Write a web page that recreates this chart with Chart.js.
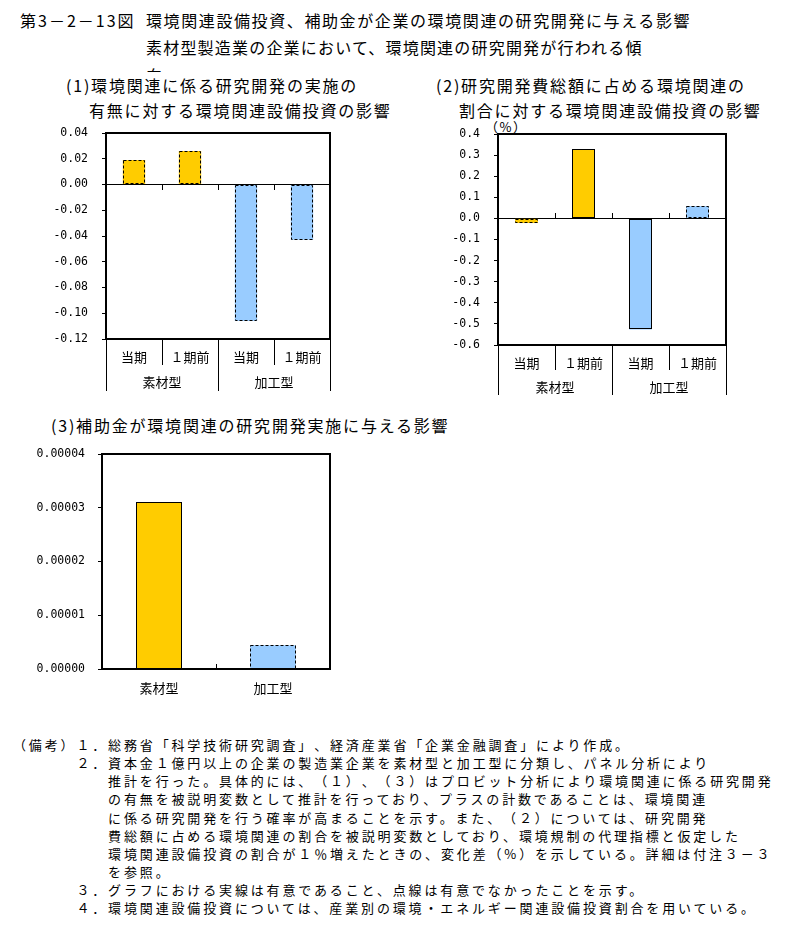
<!DOCTYPE html>
<html lang="ja">
<head>
<meta charset="utf-8">
<script src="https://cdn.jsdelivr.net/npm/chart.js@4.4.1/dist/chart.umd.min.js"></script>
<style>
body{margin:0;background:#fff;width:797px;height:942px;position:relative;overflow:hidden;font-family:"Noto Sans CJK JP",sans-serif;color:#000;text-spacing-trim:space-all;}
.t{position:absolute;white-space:nowrap;font-size:16px;line-height:20px;letter-spacing:1.8px;}
.clip{position:absolute;overflow:hidden;font-size:16px;line-height:20px;white-space:nowrap;}
.unit{position:absolute;left:485px;top:119px;font-size:13px;line-height:16px;letter-spacing:1.5px;white-space:nowrap;}
.notes{position:absolute;left:13px;top:736px;font-size:13px;line-height:18.15px;letter-spacing:2.85px;white-space:pre;}
canvas{position:absolute;}
</style>
</head>
<body>
<div class="t" style="left:20px;top:10px;letter-spacing:2px">第3－2－13図</div>
<div class="t" style="left:146px;top:10px;letter-spacing:1.6px">環境関連設備投資、補助金が企業の環境関連の研究開発に与える影響</div>
<div class="t" style="left:146px;top:37px;letter-spacing:1.2px">素材型製造業の企業において、環境関連の研究開発が行われる傾</div>
<div class="clip" style="left:146px;top:65px;height:7px">向</div>

<div class="t" style="left:66px;top:75px">(1)環境関連に係る研究開発の実施の</div>
<div class="t" style="left:89px;top:100px">有無に対する環境関連設備投資の影響</div>
<div class="t" style="left:436px;top:75px">(2)研究開発費総額に占める環境関連の</div>
<div class="t" style="left:459px;top:100px">割合に対する環境関連設備投資の影響</div>
<div class="unit">（%）</div>
<div class="t" style="left:51px;top:415px">(3)補助金が環境関連の研究開発実施に与える影響</div>

<canvas id="c1" width="400" height="285" style="left:0;top:120px"></canvas>
<canvas id="c2" width="397" height="285" style="left:400px;top:120px"></canvas>
<canvas id="c3" width="400" height="270" style="left:0;top:440px"></canvas>

<div class="notes">（備考）１．総務省「科学技術研究調査」、経済産業省「企業金融調査」により作成。
　　　　２．資本金１億円以上の企業の製造業企業を素材型と加工型に分類し、パネル分析により
　　　　　　推計を行った。具体的には、（１）、（３）はプロビット分析により環境関連に係る研究開発
　　　　　　の有無を被説明変数として推計を行っており、プラスの計数であることは、環境関連
　　　　　　に係る研究開発を行う確率が高まることを示す。また、（２）については、研究開発
　　　　　　費総額に占める環境関連の割合を被説明変数としており、環境規制の代理指標と仮定した
　　　　　　環境関連設備投資の割合が１％増えたときの、変化差（%）を示している。詳細は付注３－３
　　　　　　を参照。
　　　　３．グラフにおける実線は有意であること、点線は有意でなかったことを示す。
　　　　４．環境関連設備投資については、産業別の環境・エネルギー関連設備投資割合を用いている。</div>

<script>
// categories
const periods = ['当期', '１期前', '当期', '１期前'];
const groups = ['素材型', '加工型'];
const periodGroup = [0, 0, 1, 1];

// (1) 研究開発の実施の有無
const rdDoneValues = [0.019, 0.026, -0.106, -0.043];
const rdDoneSignificant = [false, false, false, false];

// (2) 研究開発費に占める割合 (%)
const rdShareValues = [-0.022, 0.328, -0.526, 0.058];
const rdShareSignificant = [false, true, true, false];

// (3) 補助金
const subsidyValues = [0.0000310, 0.0000044];
const subsidySignificant = [true, false];

const groupColors = ['#FFCC00', '#99CCFF'];
const jpFont = 'Noto Sans CJK JP';
const numFont = 'DejaVu Sans Mono';

// bar outlines (solid = significant, dashed = not), zero-line marks and plot frame
const framePlugin = {
	id: 'frame',
	afterDatasetsDraw(chart, args, opts) {
		let ctx = chart.ctx;
		let a = chart.chartArea;
		let sig = opts.significant || [];
		ctx.save();
		ctx.strokeStyle = '#000';
		ctx.lineWidth = 1;
		chart.getDatasetMeta(0).data.forEach(function(bar, i){
			let p = bar.getProps(['x', 'y', 'base', 'width'], true);
			let l = Math.round(p.x - p.width / 2) + 0.5;
			let r = Math.round(p.x + p.width / 2) - 0.5;
			let t = Math.round(Math.min(p.y, p.base)) + 0.5;
			let b = Math.round(Math.max(p.y, p.base)) - 0.5;
			ctx.setLineDash(sig[i] ? [] : [3, 2]);
			ctx.strokeRect(l, t, r - l, b - t);
		});
		ctx.setLineDash([]);
		let xs = chart.scales.x;
		let y0 = Math.round(chart.scales.y.getPixelForValue(0));
		let dir = opts.markDir || 1;
		ctx.beginPath();
		for(let i = 0; i < xs.ticks.length - 1; i++){
			let mx = Math.round((xs.getPixelForTick(i) + xs.getPixelForTick(i + 1)) / 2) + 0.5;
			ctx.moveTo(mx, y0);
			ctx.lineTo(mx, y0 + dir * 5);
		}
		ctx.stroke();
		ctx.lineWidth = 2;
		ctx.strokeRect(a.left, a.top, a.right - a.left, a.bottom - a.top);
		ctx.restore();
	}
};

function yScale(min, max, step, digits, width, pad){
	return {
		min: min,
		max: max,
		ticks: {
			stepSize: step,
			padding: pad,
			color: '#000',
			font: {family: numFont, size: 11.5},
			callback: function(v){ return Math.abs(v) < step / 1000 ? (0).toFixed(digits) : v.toFixed(digits); }
		},
		grid: {
			color: function(c){ return c.tick && Math.abs(c.tick.value) < step / 1000 ? '#000' : 'rgba(0,0,0,0)'; },
			tickColor: '#000',
			tickLength: 4,
			lineWidth: 1
		},
		border: {display: false},
		afterFit: function(s){
			s.width = width;
			// keep the plot box where the layout padding puts it
			s.paddingTop = 0;
			s.paddingBottom = 0;
		}
	};
}

function catAxis(labels, weight, rowH, pad){
	return {
		type: 'category',
		labels: labels,
		offset: true,
		position: 'bottom',
		weight: weight,
		grid: {offset: true, drawOnChartArea: false, tickLength: rowH, tickColor: '#000', lineWidth: 1},
		border: {display: false},
		ticks: {padding: pad, color: '#000', font: {family: jpFont, size: 13}, maxRotation: 0, autoSkip: false},
		afterFit: function(s){ s.height = rowH; }
	};
}

function barData(labels, values, colorIdx){
	return {
		labels: labels,
		datasets: [{
			data: values,
			backgroundColor: values.map(function(v, i){ return groupColors[colorIdx[i]]; }),
			borderWidth: 0,
			categoryPercentage: 1,
			barPercentage: 0.4
		}]
	};
}

function baseOptions(padding, scales, sig, markDir){
	return {
		responsive: false,
		animation: false,
		layout: {padding: padding},
		scales: scales,
		plugins: {
			legend: {display: false},
			tooltip: {enabled: false},
			frame: {significant: sig, markDir: markDir}
		}
	};
}

new Chart(document.getElementById('c1'), {
	type: 'bar',
	data: barData(periods, rdDoneValues, periodGroup),
	options: baseOptions({left: 0, top: 13, right: 70, bottom: 14}, {
		x: catAxis(periods, 0, 26, -15.8),
		x2: catAxis(groups, 1, 26, -16.8),
		y: yScale(-0.12, 0.04, 0.02, 2, 106, 14)
	}, rdDoneSignificant, 1),
	plugins: [framePlugin]
});

new Chart(document.getElementById('c2'), {
	type: 'bar',
	data: barData(periods, rdShareValues, periodGroup),
	options: baseOptions({left: 0, top: 14, right: 71, bottom: 10}, {
		x: catAxis(periods, 0, 25, -14.8),
		x2: catAxis(groups, 1, 25, -15.8),
		y: yScale(-0.6, 0.4, 0.1, 1, 98, 14)
	}, rdShareSignificant, -1),
	plugins: [framePlugin]
});

new Chart(document.getElementById('c3'), {
	type: 'bar',
	data: barData(groups, subsidyValues, [0, 1]),
	options: baseOptions({left: 0, top: 14, right: 70, bottom: 11}, {
		x: {
			type: 'category',
			offset: true,
			grid: {display: false, drawTicks: false},
			border: {display: false},
			ticks: {padding: 11, color: '#000', font: {family: jpFont, size: 13}, maxRotation: 0},
			afterFit: function(s){ s.height = 30; }
		},
		y: yScale(0, 0.00004, 0.00001, 5, 102, 13)
	}, subsidySignificant, -1),
	plugins: [framePlugin]
});
</script>
</body>
</html>
